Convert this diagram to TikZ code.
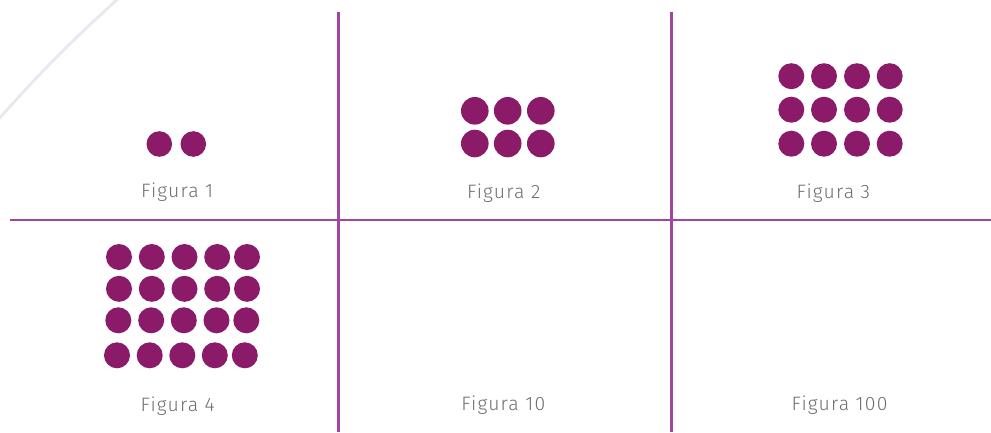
\documentclass[tikz,border=0pt]{standalone}
\usepackage{fontspec}
\setmainfont{Fira Sans}[UprightFont=* Light, LetterSpace=6]
\definecolor{dotc}{HTML}{8B1A68}
\definecolor{linec}{HTML}{A3449F}
\definecolor{txtc}{HTML}{6D6E71}
\definecolor{faint}{HTML}{EDE7F3}
\begin{document}
\begin{tikzpicture}[x=1pt,y=-1pt,
  dot/.style={fill=dotc,draw=none},
  grid/.style={draw=linec,line width=2.6pt},
  lab/.style={anchor=base west,inner sep=0pt,text=txtc,font=\fontsize{19.4}{21}\selectfont}]
\useasboundingbox (0,0) rectangle (991,432);
\begin{scope}
\clip (0,0) rectangle (991,432);
\draw[faint,line width=3pt] (-3,121) to[bend left=3] (120,-3);
\end{scope}
% grid lines
\coordinate (hL) at (10,220);
\coordinate (hR) at (991,220);
\coordinate (v1t) at (338.5,12);
\coordinate (v1b) at (338.5,432);
\coordinate (v2t) at (671.2,12);
\coordinate (v2b) at (671.2,432);
\draw[grid] (hL) -- (hR);
\draw[grid] (v1t) -- (v1b);
\draw[grid] (v2t) -- (v2b);
% figura 1
\foreach \x in {159.3,193.3} \fill[dot] (\x,144) circle (12.8);
% figura 2
\foreach \x in {474.8,507.7,540.8} \foreach \y in {110.8,143.5} \fill[dot] (\x,\y) circle (13.8);
% figura 3
\foreach \x in {791.3,824,857,889.7} \foreach \y in {76.2,109.7,143.7} \fill[dot] (\x,\y) circle (13);
% figura 4
\foreach \y/\a/\b/\c/\d/\e in {257/119/151.8/184.5/217.2/247, 288.8/119/151.8/184.5/217.2/247, 320.3/118.3/151.2/183.8/216.5/246.3, 355.3/117/149.7/182.3/214.8/244.8}
  \foreach \x in {\a,\b,\c,\d,\e} \fill[dot] (\x,\y) circle (13);
% labels
\node[lab] (l1) at (141,197.8) {Figura 1};
\node[lab] (l2) at (466.8,198.3) {Figura 2};
\node[lab] (l3) at (796.5,198.3) {Figura 3};
\node[lab] (l4) at (140.5,411.5) {Figura 4};
\node[lab] (l10) at (461.2,410.7) {Figura 10};
\node[lab] (l100) at (791.5,410.7) {Figura 100};
\end{tikzpicture}
\end{document}
